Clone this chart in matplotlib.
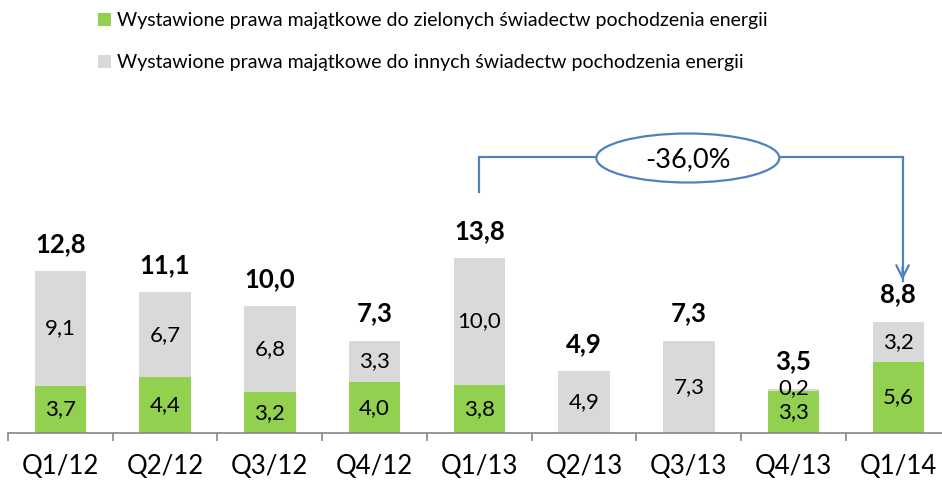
import matplotlib
matplotlib.use("Agg")
import matplotlib.pyplot as plt
from matplotlib.patches import Ellipse
import numpy as np

plt.rcParams['font.family'] = ['Lato', 'DejaVu Sans']

categories = ["Q1/12", "Q2/12", "Q3/12", "Q4/12", "Q1/13", "Q2/13", "Q3/13", "Q4/13", "Q1/14"]
green = [3.7, 4.4, 3.2, 4.0, 3.8, 0.0, 0.0, 3.3, 5.6]
other = [9.1, 6.7, 6.8, 3.3, 10.0, 4.9, 7.3, 0.2, 3.2]
totals = [12.8, 11.1, 10.0, 7.3, 13.8, 4.9, 7.3, 3.5, 8.8]
change_label = "-36,0%"
legend_labels = ["Wystawione prawa majątkowe do zielonych świadectw pochodzenia energii",
                 "Wystawione prawa majątkowe do innych świadectw pochodzenia energii"]

def fmt(v):
    return f"{v:.1f}".replace(".", ",")

W, H = 942, 484
fig = plt.figure(figsize=(W/100, H/100), dpi=100)
px_unit = 12.66
base_y = 433
top_y = 100
ymax = (base_y - top_y) / px_unit
ax = fig.add_axes([8/W, (H-base_y)/H, 942.75/W, (base_y-top_y)/H])
n = len(categories)
x = np.arange(n)
GREEN = "#92D050"
GRAY = "#D9D9D9"
bw = 0.49
b1 = ax.bar(x, green, bw, color=GREEN, label=legend_labels[0], zorder=2)
b2 = ax.bar(x, other, bw, bottom=green, color=GRAY, label=legend_labels[1], zorder=2)
ax.set_xlim(-0.5, n-0.5)
ax.set_ylim(0, ymax)

for i in range(n):
    if green[i] > 0:
        ax.text(x[i], green[i]/2, fmt(green[i]), ha='center', va='center', fontsize=16, color='black', zorder=3)
    if other[i] > 0:
        yc = green[i] + other[i]/2
        if other[i] < 0.5:
            yc = green[i] + other[i] + 0.05
        ax.text(x[i], yc, fmt(other[i]), ha='center', va='center', fontsize=16, color='black', zorder=3)
    ax.annotate(fmt(totals[i]), (x[i], totals[i]), xytext=(0, 11), textcoords='offset points',
                ha='center', va='bottom', fontsize=18.5, fontweight='bold')

for s in ['top', 'right', 'left']:
    ax.spines[s].set_visible(False)
ax.spines['bottom'].set_color('#868686')
ax.spines['bottom'].set_linewidth(1.2)
ax.set_yticks([])
ax.set_xticks(np.arange(-0.5, n, 1.0), minor=False)
ax.set_xticklabels([])
ax.tick_params(axis='x', length=6, color='#868686', width=1.2)
for i in range(n):
    ax.text(x[i], -2.65, categories[i], ha='center', va='center', fontsize=18.5)

# bracket annotation
blue = "#4F81BD"
i0, i1 = 4, 8
yl = (base_y - 157) / px_unit
ys = (base_y - 192) / px_unit
ye = (base_y - 283) / px_unit
xe = i1 + 0.04
ecx = 5.99
ew = 183/104.75
eh = 49/px_unit
ax.plot([i0, i0, ecx - ew/2], [ys, yl, yl], color=blue, lw=1.6, clip_on=False, solid_joinstyle='miter')
ax.plot([ecx + ew/2, xe, xe], [yl, yl, ye + 0.15], color=blue, lw=1.6, clip_on=False, solid_joinstyle='miter')
ax.annotate("", xy=(xe, ye), xytext=(xe, ye + 1.5),
            arrowprops=dict(arrowstyle="->,head_length=0.9,head_width=0.45", color=blue, lw=1.6))
ax.add_patch(Ellipse((ecx, (base_y-158)/px_unit), ew, eh, facecolor='white', edgecolor=blue, lw=1.6, zorder=4, clip_on=False))
ax.text(ecx, (base_y-160)/px_unit, change_label, ha='center', va='center', fontsize=19.5, zorder=5)

fig.legend(handles=[b1, b2], labels=legend_labels, loc='upper left', bbox_to_anchor=(86/W, 1 - 0/H),
           frameon=False, fontsize=14, handlelength=0.65, handleheight=0.65, handletextpad=0.3,
           labelspacing=1.3, borderpad=0.12)

fig.savefig("out.png", dpi=100)
